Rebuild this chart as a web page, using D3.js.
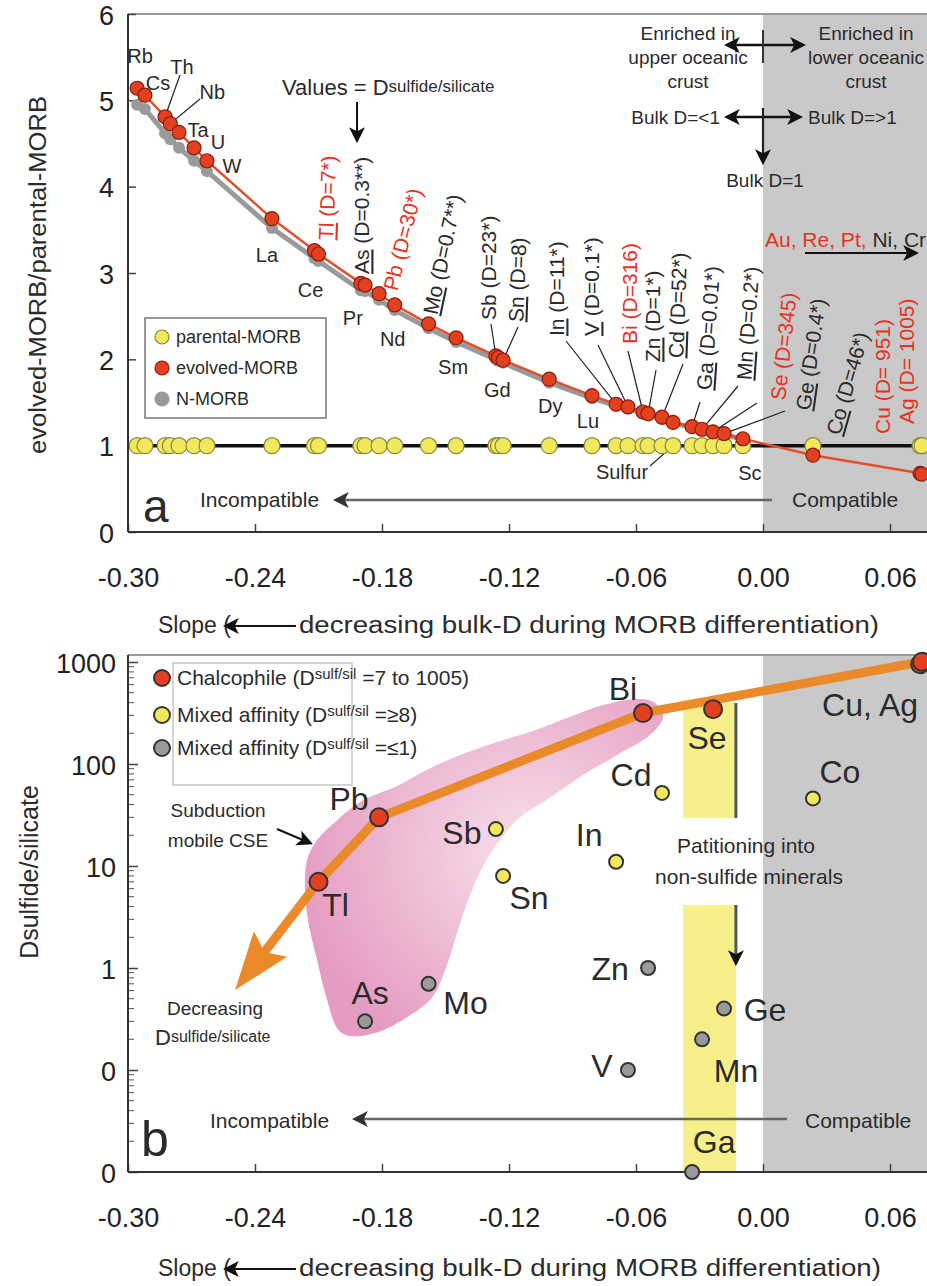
<!DOCTYPE html>
<html>
<head>
<meta charset="utf-8">
<script src="https://cdn.jsdelivr.net/npm/d3@7"></script>
<style>
  body { margin: 0; background: #fff; }
  svg { display: block; }
  text { font-family: "Liberation Sans", Arial, sans-serif; fill: #2b2b2b; }
</style>
</head>
<body>
<svg id="chart" width="927" height="1286"></svg>
<script>
// ============================================================================
// DATA
// ============================================================================
// Panel a: slope of each element during MORB differentiation and the
// evolved/parental ratio for evolved MORB, N-MORB and parental MORB
const elements = ["Rb","Cs","Th","Nb","Ta","U","W","La","Ce","Tl","Pr","As","Pb","Nd","Mo","Sm",
  "Sb","Gd","Sn","Dy","Lu","In","V","Bi","Zn","Cd","S","Ga","Mn","Se","Ge","Sc","Co","Cu","Ag"];
const slopes = [-0.2957,-0.2920,-0.2825,-0.2800,-0.2759,-0.2688,-0.2627,-0.2320,-0.2119,-0.2100,
  -0.1900,-0.1880,-0.1814,-0.1740,-0.1580,-0.1450,-0.1262,-0.1250,-0.1228,-0.1010,-0.0808,
  -0.0694,-0.0638,-0.0567,-0.0543,-0.0477,-0.0425,-0.0335,-0.0288,-0.0236,-0.0184,-0.0095,
  0.0236,0.0742,0.0751];
const evolvedMORB = [5.14,5.06,4.81,4.73,4.63,4.45,4.30,3.63,3.26,3.22,2.88,2.86,2.76,2.63,2.41,2.25,
  2.04,2.02,1.99,1.77,1.58,1.48,1.45,1.39,1.37,1.33,1.27,1.22,1.19,1.16,1.14,1.08,0.89,0.68,0.67];
const nMORB = [4.95,4.90,4.62,4.55,4.45,4.30,4.18,3.52,3.17,3.14,2.80,2.79,2.69,2.57,2.36,2.20,
  2.00,1.98,1.96,1.73,1.55,1.46,1.43,1.37,1.35,1.31,1.26,1.21,1.18,1.15,1.13,1.07,null,null,null];
const parentalMORB = [1,1,1,1,1,1,1,1,1,1,1,1,1,1,1,1,1,1,1,1,1,1,1,1,1,1,1,1,1,1,1,1,1,1,1];

// Panel b: sulfide/silicate partition coefficients, by affinity group
const chalcophile = ["Tl","Pb","Bi","Se","Cu","Ag"];
const chalcophileD = [7, 30, 316, 345, 951, 1005];
const mixedHigh = ["Sb","Sn","In","Cd","Co"];
const mixedHighD = [23, 8, 11, 52, 46];
const mixedLow = ["As","Mo","Zn","V","Ge","Mn","Ga"];
const mixedLowD = [0.3, 0.7, 1, 0.1, 0.4, 0.2, 0.01];

// Chalcophile trend (orange arrow) and the subduction-mobile field
const trendElements = ["Tl","Pb","Bi","Ag"];
const trendTip = [-0.2494, 0.61];           // slope, D at the arrow tip
const cseFieldSlope = [-0.2154,-0.2107,-0.2013,-0.1890,-0.1729,-0.1573,-0.1417,-0.1257,-0.1101,
  -0.0926,-0.0737,-0.0581,-0.0510,-0.0472,-0.0534,-0.0690,-0.0850,-0.1006,-0.1148,-0.1243,
  -0.1313,-0.1384,-0.1441,-0.1493,-0.1564,-0.1691,-0.1833,-0.1951,-0.2008,-0.2060,-0.2107,
  -0.2150,-0.2164];
const cseFieldD = [11.5,18,28,44,61,91,125,164,206,283,387,434,396,289,192,122,78,47,30,18,
  10.9,5.2,2.36,1.07,0.51,0.32,0.23,0.215,0.25,0.49,1.2,2.96,6.1];

// Ticks
const xTicks = [-0.30,-0.24,-0.18,-0.12,-0.06,0.00,0.06];
const yTicksA = [0,1,2,3,4,5,6];
const yTicksB = [0.01,0.1,1,10,100,1000];
const yTickLabelsB = ["0","0","1","10","100","1000"];

// ============================================================================
// SETUP
// ============================================================================
const RED = '#e2401f', RED_TXT = '#e8321e', YEL = '#f1e95c', GREY = '#9a9a9a';
const SHADE = '#c9c9c9', ORANGE = '#ea8a2b', INK = '#2b2b2b';
const W = 927;

const svg = d3.select('#chart');
const x = d3.scaleLinear().domain([-0.30, 0.06]).range([128, 890]);
const yA = d3.scaleLinear().domain([0, 6]).range([532, 14]);
const yB = d3.scaleLog().domain([0.01, 1000]).range([1172, 662]);
const topB = 655;

const rows = elements.map((e, i) => ({
  e, s: slopes[i], ev: evolvedMORB[i], n: nMORB[i], p: parentalMORB[i]
}));
const row = e => rows.find(r => r.e === e);

const dOf = {};
chalcophile.forEach((e, i) => dOf[e] = chalcophileD[i]);
mixedHigh.forEach((e, i) => dOf[e] = mixedHighD[i]);
mixedLow.forEach((e, i) => dOf[e] = mixedLowD[i]);

// arrowheads
const defs = svg.append('defs');
function addArrow(id, color, size) {
  defs.append('marker').attr('id', id)
    .attr('viewBox', '0 0 10 10').attr('refX', 8).attr('refY', 5)
    .attr('markerWidth', size).attr('markerHeight', size)
    .attr('markerUnits', 'userSpaceOnUse')
    .attr('orient', 'auto-start-reverse')
    .append('path').attr('d', 'M0,0 L10,5 L0,10 L2.5,5 Z').attr('fill', color);
}
addArrow('arrK', '#111', 16);
addArrow('arrG', '#333', 16);

const grad = defs.append('radialGradient').attr('id', 'pink')
  .attr('cx', '62%').attr('cy', '45%').attr('r', '65%');
grad.append('stop').attr('offset', '0%').attr('stop-color', '#f8e0eb');
grad.append('stop').attr('offset', '100%').attr('stop-color', '#e59cc2');

function txt(g, xx, yy, s, size, opts = {}) {
  const t = g.append('text').attr('x', xx).attr('y', yy)
    .attr('font-size', size).attr('text-anchor', opts.anchor || 'start')
    .style('fill', opts.color || INK).text(s);
  if (opts.len) t.attr('textLength', opts.len).attr('lengthAdjust', 'spacingAndGlyphs');
  return t;
}
function line(g, x1, y1, x2, y2, color, w) {
  return g.append('line').attr('x1', x1).attr('y1', y1).attr('x2', x2).attr('y2', y2)
    .attr('stroke', color).attr('stroke-width', w);
}
function styleAxis(a) {
  a.select('.domain').remove();
  a.selectAll('.tick line').attr('stroke', '#444').attr('stroke-width', 1.5);
  a.selectAll('text').attr('font-size', 27).style('fill', '#222')
    .style('font-family', '"Liberation Sans", Arial, sans-serif');
}

// ============================================================================
// PANEL A
// ============================================================================
const ga = svg.append('g');
ga.append('rect').attr('x', x(0)).attr('y', yA(6)).attr('width', W - x(0))
  .attr('height', yA(0) - yA(6)).attr('fill', SHADE);
line(ga, x(-0.30), yA(6), W, yA(6), '#999', 2);

// axes
const axYA = ga.append('g').attr('transform', `translate(${x(-0.30)},0)`)
  .call(d3.axisLeft(yA).tickValues(yTicksA).tickSize(-8).tickSizeOuter(0).tickPadding(14)
    .tickFormat(d3.format('d')));
const axXA = ga.append('g').attr('transform', `translate(0,${yA(0)})`)
  .call(d3.axisBottom(x).tickValues(xTicks).tickSize(-8).tickSizeOuter(0).tickPadding(36)
    .tickFormat(d => d.toFixed(2)));
styleAxis(axYA);
styleAxis(axXA);
axYA.selectAll('.tick text').attr('dy', '0.38em');
line(ga, x(-0.30), yA(6), x(-0.30), yA(0), '#333', 2);
line(ga, x(-0.30), yA(0), W, yA(0), '#333', 2);

// reference line at ratio = 1
line(ga, x(-0.30), yA(1), W, yA(1), '#111', 3.5);

// annotation arrows at top right
line(ga, 727, 45, 803, 45, '#111', 2.5).attr('marker-start', 'url(#arrK)').attr('marker-end', 'url(#arrK)');
line(ga, x(0), 30, x(0), 63, '#333', 2);
line(ga, 727, 117, 800, 117, '#111', 2.5).attr('marker-start', 'url(#arrK)').attr('marker-end', 'url(#arrK)');
line(ga, x(0), 108, x(0), 162, '#222', 2.2).attr('marker-end', 'url(#arrK)');
['Enriched in', 'upper oceanic', 'crust'].forEach((s, i) => txt(ga, 688, 40 + i * 24, s, 19, {anchor: 'middle'}));
['Enriched in', 'lower oceanic', 'crust'].forEach((s, i) => txt(ga, 866, 40 + i * 24, s, 19, {anchor: 'middle'}));
txt(ga, 720, 124, 'Bulk D=<1', 19, {anchor: 'end'});
txt(ga, 808, 124, 'Bulk D=>1', 19);
txt(ga, 765, 187, 'Bulk D=1', 19, {anchor: 'middle'});
const aure = txt(ga, 765, 247, '', 21);
aure.append('tspan').style('fill', RED_TXT).text('Au, Re, Pt, ');
aure.append('tspan').style('fill', INK).text('Ni, Cr');
line(ga, 805, 253, 916, 253, '#111', 2).attr('marker-end', 'url(#arrK)');

// "Values = D sulfide/silicate"
const vt = txt(ga, 282, 95, 'Values = D', 22);
vt.append('tspan').attr('font-size', 17).attr('dy', -3).text('sulfide/silicate');
line(ga, 357, 102, 357, 140, '#111', 2).attr('marker-end', 'url(#arrK)');

// incompatible / compatible
txt(ga, 200, 507, 'Incompatible', 21);
line(ga, 772, 500, 336, 500, '#666', 2.5).attr('marker-end', 'url(#arrG)');
txt(ga, 792, 507, 'Compatible', 21);
txt(ga, 143, 522, 'a', 46);

// leader lines for rotated labels (drawn under the points)
const rotLayout = [
  // element, text centre x, bottom y, rotation, leader start
  ['Tl', 326, 240, -88, null],
  ['As', 362, 274, -90, null],
  ['Pb', 390, 290, -76, null],
  ['Mo', 430, 314, -78, null],
  ['Sb', 489, 320, -90, [491, 324]],
  ['Sn', 516, 322, -88, [518, 327]],
  ['In', 557, 336, -90, [566, 341]],
  ['V', 592, 336, -90, [598, 345]],
  ['Bi', 630, 344, -90, [628, 351]],
  ['Zn', 653, 362, -90, [656, 370]],
  ['Cd', 676, 358, -88, [683, 364]],
  ['Ga', 704, 390, -86, [700, 402]],
  ['Mn', 744, 380, -86, [738, 386]],
  ['Se', 778, 400, -84, [757, 403]],
  ['Ge', 803, 410, -82, [785, 411]],
  ['Co', 833, 434, -74, null],
  ['Cu', 883, 434, -90, null],
  ['Ag', 907, 424, -90, null]
];
const dNote = {Tl:'*', As:'**', Pb:'*', Mo:'**', Sb:'*', In:'*', V:'*', Zn:'*', Cd:'*', Ga:'*', Mn:'*', Ge:'*', Co:'*'};
const underlined = new Set(['Tl','As','Mo','Sn','In','V','Zn','Cd','Ga','Mn','Ge','Co']);

rotLayout.forEach(([e, , , , ld]) => {
  if (!ld) return;
  const r = row(e);
  line(ga, ld[0], ld[1], x(r.s), yA(r.ev), '#222', 1.2);
});

// horizontal element labels
const hLayout = [
  // element, dx, dy (baseline) from the evolved-MORB point, leader start
  ['Rb', 3, -25, null], ['Cs', 13, -5, null], ['Th', 17, -43, [180, 75]],
  ['Nb', 42, -25, [200, 99]], ['Ta', 19, 5, null], ['U', 24, 1, null], ['W', 25, 12, null],
  ['La', -5, 43, null], ['Ce', -4, 46, null], ['Pr', -8, 42, null], ['Nd', -2, 41, null],
  ['Sm', -3, 36, null], ['Gd', -1, 39, null], ['Dy', 1, 34, null], ['Lu', -4, 32, null],
  ['Sc', 7, 41, null]
];
hLayout.forEach(([e, dx, dy, ld]) => {
  const r = row(e);
  if (ld) line(ga, ld[0], ld[1], x(r.s), yA(r.ev), '#222', 1.2);
  txt(ga, x(r.s) + dx, yA(r.ev) + dy, e, 20, {anchor: 'middle'});
});
const sRow = row('S');
line(ga, 650, 466, x(sRow.s), yA(sRow.p), '#222', 1.2);
txt(ga, 622, 479, 'Sulfur', 20, {anchor: 'middle'});

// series
const lineA = key => d3.line().defined(d => d[key] != null).x(d => x(d.s)).y(d => yA(d[key]));
ga.append('g').selectAll('circle').data(rows).join('circle')
  .attr('cx', d => x(d.s)).attr('cy', d => yA(d.p)).attr('r', 8)
  .attr('fill', YEL).attr('stroke', '#8a8440').attr('stroke-width', 1.2);
ga.append('path').datum(rows).attr('d', lineA('n'))
  .attr('fill', 'none').attr('stroke', GREY).attr('stroke-width', 5);
ga.append('g').selectAll('circle').data(rows.filter(d => d.n != null)).join('circle')
  .attr('cx', d => x(d.s)).attr('cy', d => yA(d.n)).attr('r', 6).attr('fill', GREY);
ga.append('path').datum(rows).attr('d', lineA('ev'))
  .attr('fill', 'none').attr('stroke', '#e3502d').attr('stroke-width', 2.5);
ga.append('g').selectAll('circle').data(rows).join('circle')
  .attr('cx', d => x(d.s)).attr('cy', d => yA(d.ev)).attr('r', 7)
  .attr('fill', RED).attr('stroke', '#8a1c0c').attr('stroke-width', 1.2);

// rotated D labels
rotLayout.forEach(([e, cx, by, rot]) => {
  const isChalco = chalcophile.includes(e);
  const col = isChalco ? RED_TXT : INK;
  const gap = (e === 'Cu' || e === 'Ag') ? ' ' : '';
  const t = ga.append('text').attr('transform', `translate(${cx},${by}) rotate(${rot})`)
    .attr('dy', '0.35em').attr('font-size', 21).style('fill', col);
  const sym = t.append('tspan').text(e);
  if (underlined.has(e)) sym.attr('text-decoration', 'underline');
  t.append('tspan').text(` (D=${gap}${dOf[e]}${dNote[e] || ''})`);
});

// legend
const la = ga.append('g');
la.append('rect').attr('x', 145).attr('y', 318).attr('width', 181).attr('height', 100)
  .attr('fill', '#fff').attr('stroke', '#777').attr('stroke-width', 1.5);
[['parental-MORB', YEL, '#8a8440'], ['evolved-MORB', RED, '#8a1c0c'], ['N-MORB', GREY, GREY]]
  .forEach(([s, f, st], i) => {
    const yy = 337 + i * 31;
    la.append('circle').attr('cx', 162).attr('cy', yy).attr('r', 7).attr('fill', f)
      .attr('stroke', st).attr('stroke-width', 1.2);
    txt(la, 176, yy + 6, s, 18);
  });

// x title
txt(ga, 158, 633, 'Slope (', 23);
line(ga, 296, 626, 226, 626, '#111', 2).attr('marker-end', 'url(#arrK)');
txt(ga, 299, 633, 'decreasing bulk-D during MORB differentiation)', 23, {len: 580});
// y title
txt(ga, 0, 0, 'evolved-MORB/parental-MORB', 23, {anchor: 'middle', len: 358})
  .attr('transform', 'translate(46,275) rotate(-90)');

// ============================================================================
// PANEL B
// ============================================================================
const gb = svg.append('g');
gb.append('rect').attr('x', x(0)).attr('y', topB).attr('width', W - x(0))
  .attr('height', yB(0.01) - topB).attr('fill', SHADE);
gb.append('rect').attr('x', x(-0.0378)).attr('y', yB(396))
  .attr('width', x(-0.0128) - x(-0.0378)).attr('height', yB(0.01) - yB(396)).attr('fill', '#f6ef8a');
line(gb, x(-0.30), topB, W, topB, '#999', 2);

// subduction-mobile field
gb.append('path')
  .datum(cseFieldSlope.map((s, i) => [x(s), yB(cseFieldD[i])]))
  .attr('d', d3.line().curve(d3.curveCatmullRomClosed))
  .attr('fill', 'url(#pink)');

// partitioning arrow + label box
line(gb, x(-0.0128), yB(396), x(-0.0128), yB(1.12), '#555', 3).attr('marker-end', 'url(#arrK)');
gb.append('rect').attr('x', 655).attr('y', 818).attr('width', 103).attr('height', 87)
  .attr('fill', '#fff');
txt(gb, 746, 853, 'Patitioning into', 21, {anchor: 'middle'});
txt(gb, 749, 884, 'non-sulfide minerals', 21, {anchor: 'middle'});

// axes
const axYB = gb.append('g').attr('transform', `translate(${x(-0.30)},0)`)
  .call(d3.axisLeft(yB).tickValues(yTicksB).tickSize(-10).tickSizeOuter(0).tickPadding(12)
    .tickFormat((d, i) => yTickLabelsB[i]));
const axXB = gb.append('g').attr('transform', `translate(0,${yB(0.01)})`)
  .call(d3.axisBottom(x).tickValues(xTicks).tickSize(-8).tickSizeOuter(0).tickPadding(36)
    .tickFormat(d => d.toFixed(2)));
styleAxis(axYB);
styleAxis(axXB);
axYB.selectAll('.tick text').attr('dy', '0.38em');
// minor log ticks
const minor = [];
[0.01, 0.1, 1, 10, 100].forEach(dec => d3.range(2, 10).forEach(k => minor.push(k * dec)));
gb.append('g').selectAll('line').data(minor).join('line')
  .attr('x1', x(-0.30)).attr('x2', x(-0.30) + 6)
  .attr('y1', d => yB(d)).attr('y2', d => yB(d)).attr('stroke', '#555').attr('stroke-width', 1);
line(gb, x(-0.30), topB, x(-0.30), yB(0.01), '#333', 2);
line(gb, x(-0.30), yB(0.01), W, yB(0.01), '#333', 2);

// orange chalcophile trend with arrow
const trendPts = trendElements.map(e => [x(row(e).s), yB(dOf[e])]);
const tip = [x(trendTip[0]), yB(trendTip[1])];
const start = trendPts[0];
const len = Math.hypot(tip[0] - start[0], tip[1] - start[1]);
const u = [(tip[0] - start[0]) / len, (tip[1] - start[1]) / len];
const nrm = [-u[1], u[0]];
const base = [tip[0] - u[0] * 58, tip[1] - u[1] * 58];
const notch = [tip[0] - u[0] * 48, tip[1] - u[1] * 48];
gb.append('path').datum([notch, ...trendPts]).attr('d', d3.line())
  .attr('fill', 'none').attr('stroke', ORANGE).attr('stroke-width', 9)
  .attr('stroke-linejoin', 'round');
gb.append('path')
  .attr('d', d3.line()([tip, [base[0] + nrm[0] * 21, base[1] + nrm[1] * 21], notch,
    [base[0] - nrm[0] * 21, base[1] - nrm[1] * 21]]) + 'Z')
  .attr('fill', ORANGE);

// points
const ptsB = [
  ...mixedLow.map((e, i) => ({e, d: mixedLowD[i], f: GREY, r: 7})),
  ...mixedHigh.map((e, i) => ({e, d: mixedHighD[i], f: YEL, r: 7})),
  ...chalcophile.map((e, i) => ({e, d: chalcophileD[i], f: RED, r: 9}))
];
gb.append('g').selectAll('circle').data(ptsB).join('circle')
  .attr('cx', d => x(row(d.e).s)).attr('cy', d => yB(d.d)).attr('r', d => d.r)
  .attr('fill', d => d.f).attr('stroke', '#333').attr('stroke-width', 2);

// element labels
const bLayout = [
  ['Tl', 17, 34], ['Pb', -30, -7], ['Bi', -20, -13], ['Se', -6, 40], ['Sb', -34, 15],
  ['Sn', 26, 33], ['Cd', -31, -7], ['Co', 27, -15], ['In', -27, -16], ['As', 5, -17],
  ['Mo', 37, 30], ['Zn', -38, 12], ['V', -26, 7], ['Ge', 41, 12], ['Mn', 34, 43], ['Ga', 22, -19]
];
bLayout.forEach(([e, dx, dy]) => {
  txt(gb, x(row(e).s) + dx, yB(dOf[e]) + dy, e, 32, {anchor: 'middle'});
});
txt(gb, x(row('Cu').s) - 50, yB(dOf.Cu) + 52, 'Cu, Ag', 32, {anchor: 'middle'});

// annotations
txt(gb, 218, 817, 'Subduction', 19, {anchor: 'middle'});
txt(gb, 218, 847, 'mobile CSE', 19, {anchor: 'middle'});
line(gb, 277, 829, 310, 843, '#111', 2).attr('marker-end', 'url(#arrK)');
txt(gb, 215, 1015, 'Decreasing', 19, {anchor: 'middle'});
const dsil = txt(gb, 155, 1045, 'D', 22);
dsil.append('tspan').attr('font-size', 16).attr('dy', -3).text('sulfide/silicate');

txt(gb, 210, 1128, 'Incompatible', 21);
line(gb, 787, 1119, 355, 1119, '#666', 2.5).attr('marker-end', 'url(#arrG)');
txt(gb, 805, 1128, 'Compatible', 21);
txt(gb, 141, 1156, 'b', 50);

// legend
const lb = gb.append('g');
lb.append('rect').attr('x', 173).attr('y', 663).attr('width', 179).attr('height', 122)
  .attr('fill', 'none').attr('stroke', '#aaa').attr('stroke-width', 1);
[[RED, '7 to 1005'], [YEL, '\u22658'], [GREY, '\u22641']].forEach(([f, s], i) => {
  const yy = [678, 715, 748][i];
  lb.append('circle').attr('cx', 162).attr('cy', yy).attr('r', 8).attr('fill', f)
    .attr('stroke', '#333').attr('stroke-width', 2);
  const t = txt(lb, 177, yy + 7, i === 0 ? 'Chalcophile (D' : 'Mixed affinity (D', 21);
  t.append('tspan').attr('font-size', 15).attr('dy', -6).text('sulf/sil');
  t.append('tspan').attr('dy', 6).text(' =' + s + ')');
});

// titles
txt(gb, 158, 1276, 'Slope (', 23);
line(gb, 296, 1269, 226, 1269, '#111', 2).attr('marker-end', 'url(#arrK)');
txt(gb, 299, 1276, 'decreasing bulk-D during MORB differentiation)', 23, {len: 582});
const yt = txt(gb, 0, 0, 'D', 25, {anchor: 'middle'}).attr('transform', 'translate(38,872) rotate(-90)');
yt.append('tspan').text('sulfide/silicate');
</script>
</body>
</html>
